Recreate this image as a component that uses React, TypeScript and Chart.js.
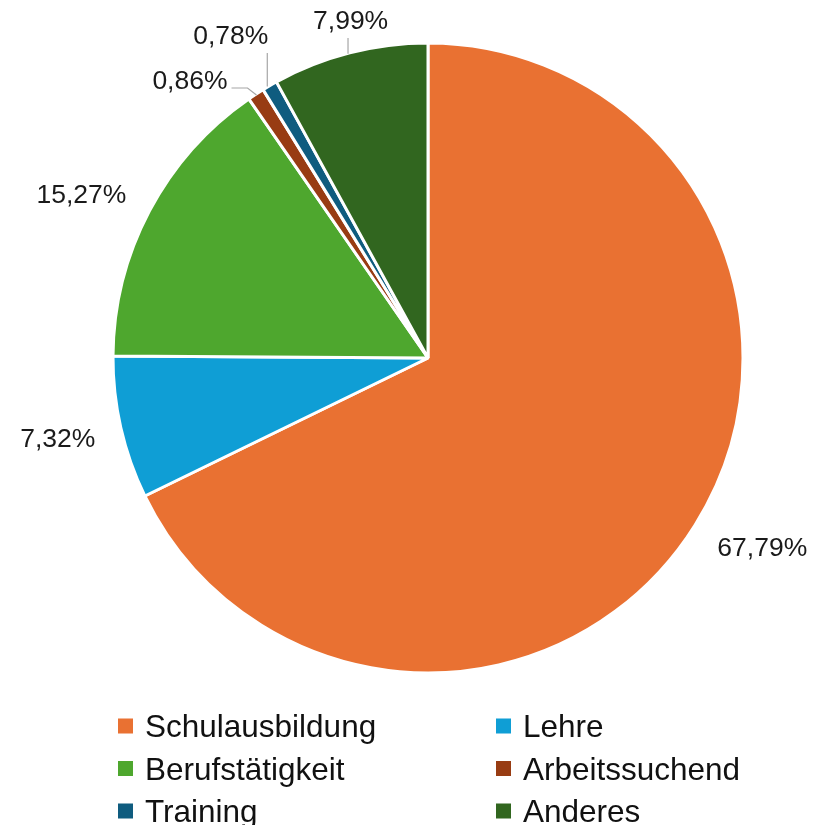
import React, { useEffect, useRef } from "react";
import { Chart, registerables } from "chart.js";

Chart.register(...registerables);

// ---- data ----
const categories = ["Schulausbildung", "Lehre", "Berufstätigkeit", "Arbeitssuchend", "Training", "Anderes"];
const shares = [67.79, 7.32, 15.27, 0.86, 0.78, 7.99];
const sliceColors = ["#E97132", "#0F9ED5", "#4EA72E", "#983C13", "#0F5C7F", "#31661F"];

// ---- label placement (offset of label centre from slice's outer mid-point) ----
const labelOffsets = [
  [68, 22],
  [-64, 9.5],
  [-69, -17.5],
  [-66.5, -15],
  [-39.5, -52],
  [0.6, -34.4],
];
const showLeader = [false, false, false, true, true, true];

const LABEL_FONT = 26.5;
const LEGEND_FONT = 31.5;
const FONT_FAMILY = '"Liberation Sans", Arial, sans-serif';

const fmt = (v: number) => v.toFixed(2).replace(".", ",") + "%";

const labelPlugin = {
  id: "pctLabels",
  afterDatasetsDraw(chart: any) {
    const ctx = chart.ctx;
    const meta = chart.getDatasetMeta(0);
    ctx.save();
    ctx.font = `${LABEL_FONT}px ${FONT_FAMILY}`;
    ctx.textAlign = "center";
    ctx.textBaseline = "alphabetic";
    meta.data.forEach((arc: any, i: number) => {
      const p = arc.getProps(["x", "y", "startAngle", "endAngle", "outerRadius"], true);
      const mid = (p.startAngle + p.endAngle) / 2;
      const r = p.outerRadius - 1;
      const px = p.x + Math.cos(mid) * r;
      const py = p.y + Math.sin(mid) * r;
      const cx = px + labelOffsets[i][0];
      const cy = py + labelOffsets[i][1];
      const text = fmt(shares[i]);
      const w = ctx.measureText(text).width;
      const capH = LABEL_FONT * 0.716;
      const left = cx - w / 2;
      const right = cx + w / 2;
      const bottom = cy + capH / 2;
      if (showLeader[i]) {
        ctx.beginPath();
        ctx.strokeStyle = "#A6A6A6";
        ctx.lineWidth = 1.2;
        if (px > right + 12) {
          const ly = cy + 8;
          ctx.moveTo(px, py);
          ctx.lineTo(right + 20, ly);
          ctx.lineTo(right + 4, ly);
        } else {
          const lx = Math.min(Math.max(px - 2, left), right - 1);
          ctx.moveTo(lx, py);
          ctx.lineTo(lx, bottom + 9);
        }
        ctx.stroke();
      }
      ctx.fillStyle = "#1A1A1A";
      ctx.fillText(text, cx, cy + capH / 2);
    });
    ctx.restore();
  },
};

const legendCols = [118, 496];
const legendRows = [726, 768.5, 811];
const legendPlugin = {
  id: "gridLegend",
  afterDraw(chart: any) {
    const ctx = chart.ctx;
    const labels = chart.data.labels as string[];
    const colors = chart.data.datasets[0].backgroundColor as string[];
    ctx.save();
    ctx.font = `${LEGEND_FONT}px ${FONT_FAMILY}`;
    ctx.textBaseline = "alphabetic";
    ctx.textAlign = "left";
    labels.forEach((lab, i) => {
      const col = i % 2;
      const row = Math.floor(i / 2);
      const x = legendCols[col];
      const yc = legendRows[row];
      ctx.fillStyle = colors[i];
      ctx.fillRect(x, yc - 7.5, 15, 15);
      ctx.fillStyle = "#111111";
      ctx.fillText(lab, x + 27, yc + (LEGEND_FONT * 0.7) / 2);
    });
    ctx.restore();
  },
};

export default function App() {
  const ref = useRef<HTMLCanvasElement>(null);
  useEffect(() => {
    if (!ref.current) return;
    const chart = new Chart(ref.current, {
      type: "pie",
      data: {
        labels: categories,
        datasets: [
          {
            data: shares,
            backgroundColor: sliceColors,
            borderColor: "#FFFFFF",
            borderWidth: 3,
          },
        ],
      },
      options: {
        responsive: false,
        animation: false,
        layout: { padding: { left: 111.5, right: 82.5, top: 41.5, bottom: 150.5 } },
        plugins: {
          legend: { display: false },
          tooltip: { enabled: false },
          title: { display: false },
        },
      },
      plugins: [labelPlugin, legendPlugin],
    });
    return () => chart.destroy();
  }, []);
  return (
    <div style={{ position: "absolute", left: 0, top: 0, width: 827, height: 825, background: "#FFFFFF" }}>
      <canvas ref={ref} width={827} height={825} style={{ width: 827, height: 825, display: "block" }} />
    </div>
  );
}
